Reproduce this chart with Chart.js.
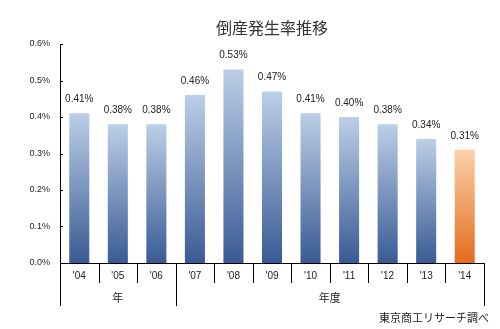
<!DOCTYPE html>
<html><head><meta charset="utf-8">
<script src="https://cdn.jsdelivr.net/npm/chart.js@4/dist/chart.umd.min.js"></script>
<style>html,body{margin:0;padding:0;background:#fff}#wrap{width:500px;height:329px}</style>
</head><body><div id="wrap"><canvas id="c" width="500" height="329"></canvas></div>
<script>
const categories = ["'04","'05","'06","'07","'08","'09","'10","'11","'12","'13","'14"];
const rates = [0.41,0.38,0.38,0.46,0.53,0.47,0.41,0.40,0.38,0.34,0.31];
const valueLabels = ["0.41%","0.38%","0.38%","0.46%","0.53%","0.47%","0.41%","0.40%","0.38%","0.34%","0.31%"];
const groups = [{label:"年", from:0, to:2},{label:"年度", from:3, to:10}];
const yTicks = [0,0.1,0.2,0.3,0.4,0.5,0.6];
const titleText = "倒産発生率推移";
const sourceText = "東京商工リサーチ調べ";

const FONT = "'Liberation Sans', Arial, sans-serif";
const CJK = "'Noto Sans CJK JP', sans-serif";

function barFill(ctx){
  const chart = ctx.chart, area = chart.chartArea;
  if(!area) return '#6f8fbf';
  const i = ctx.dataIndex;
  const yTop = chart.scales.y.getPixelForValue(rates[i]);
  const g = chart.ctx.createLinearGradient(0, yTop, 0, area.bottom);
  if(i === rates.length-1){
    g.addColorStop(0,'#fbd1aa'); g.addColorStop(1,'#e46c1e');
  } else {
    g.addColorStop(0,'#bccfe7'); g.addColorStop(1,'#395a94');
  }
  return g;
}

const deco = {
  id:'deco',
  afterDraw(chart){
    const c = chart.ctx, a = chart.chartArea, xs = chart.scales.x, ys = chart.scales.y;
    c.save();
    c.strokeStyle = '#000'; c.lineWidth = 1;
    yTicks.forEach(v=>{
      const y = Math.round(ys.getPixelForValue(v))+0.5;
      c.beginPath(); c.moveTo(a.left, y); c.lineTo(a.left+3, y); c.stroke();
    });
    const half = (xs.getPixelForValue(1)-xs.getPixelForValue(0))/2;
    const groupEnds = new Set(groups.map(g=>g.to));
    for(let i=-1;i<categories.length;i++){
      const x = Math.round(xs.getPixelForValue(i)+half)+0.5;
      const long = i===-1 || groupEnds.has(i);
      c.beginPath(); c.moveTo(x, a.bottom); c.lineTo(x, a.bottom + (long?43:20)); c.stroke();
    }
    c.fillStyle = '#222'; c.font = "11px " + CJK; c.textAlign='center'; c.textBaseline='middle';
    groups.forEach(g=>{
      const x = (xs.getPixelForValue(g.from)+xs.getPixelForValue(g.to))/2;
      c.fillText(g.label, x, a.bottom+35);
    });
    c.font = "10px " + FONT; c.fillStyle = '#222'; c.textBaseline='middle';
    rates.forEach((v,i)=>{
      c.fillText(valueLabels[i], xs.getPixelForValue(i), ys.getPixelForValue(v)-14);
    });
    c.font = "16px " + CJK; c.fillStyle = '#333';
    c.fillText(titleText, (a.left+a.right)/2, 28);
    c.font = "11px " + CJK; c.textAlign='right'; c.fillStyle='#222';
    c.fillText(sourceText, 489, 318);
    c.restore();
  }
};

new Chart(document.getElementById('c'), {
  type:'bar',
  data:{labels:categories, datasets:[{data:rates, backgroundColor:barFill, borderWidth:0,
    barPercentage:0.52, categoryPercentage:1}]},
  options:{
    responsive:false, animation:false, devicePixelRatio:1,
    layout:{padding:{left:0,right:16,top:44,bottom:0}},
    plugins:{legend:{display:false}, tooltip:{enabled:false}, title:{display:false}},
    scales:{
      x:{grid:{display:false, drawTicks:false, tickLength:0}, border:{display:true,color:'#000',width:1},
        ticks:{color:'#222', font:{family:FONT,size:10}, padding:7, maxRotation:0},
        afterFit(s){ s.height = 66; }},
      y:{min:0,max:0.6, grid:{display:false, drawTicks:false, tickLength:0}, border:{display:true,color:'#000',width:1},
        ticks:{stepSize:0.1, color:'#222', font:{family:FONT,size:9}, padding:10,
          callback:(v)=>v.toFixed(1)+'%'},
        afterFit(s){ s.width = 60; }}
    }
  },
  plugins:[deco]
});
</script>
</body></html>
